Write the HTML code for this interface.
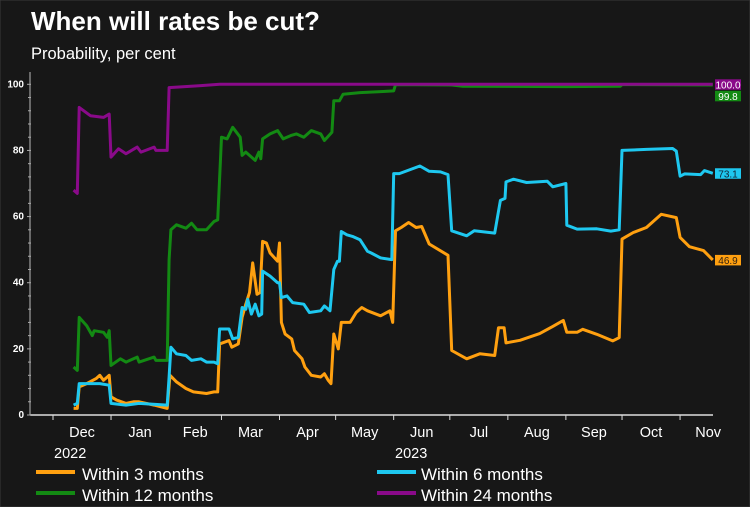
<!DOCTYPE html>
<html><head><meta charset="utf-8"><style>
html,body{margin:0;padding:0;background:#161616;}
svg{display:block;font-family:"Liberation Sans",Arial,sans-serif;}
</style></head><body>
<svg id="chart" width="750" height="507" viewBox="0 0 750 507">
<rect x="0" y="0" width="750" height="507" fill="#171717" stroke="#3a3a3a"/>
<text x="31" y="30" fill="#fff" font-size="26" font-weight="bold">When will rates be cut?</text>
<text x="31" y="59" fill="#fff" font-size="16.5">Probability, per cent</text>
<g id="axes"></g>
<g id="series"></g>
<g id="endlabels"></g>
<g>
<g><rect x="36" y="470" width="39" height="4" fill="#ffa010"/><text x="82" y="480" fill="#fff" font-size="17">Within 3 months</text></g>
<g><rect x="377" y="470" width="39" height="4" fill="#1ec8f0"/><text x="421" y="480" fill="#fff" font-size="17">Within 6 months</text></g>
<g><rect x="36" y="491" width="39" height="4" fill="#138a13"/><text x="82" y="501" fill="#fff" font-size="17">Within 12 months</text></g>
<g><rect x="377" y="491" width="39" height="4" fill="#8a0a8a"/><text x="421" y="501" fill="#fff" font-size="17">Within 24 months</text></g>
</g>
</svg>
<script>
// days since 1 Dec 2022
const monthLabels = ["Dec","Jan","Feb","Mar","Apr","May","Jun","Jul","Aug","Sep","Oct","Nov"];
const monthStarts = [0,31,62,90,121,151,182,212,243,274,304,335];
const yTicks = [0,20,40,60,80,100];

const days3 = [11,13,14,18,23,25,27,29,30,31,34,39,43,46,54,61,62.5,66,71,75,82,86,88,89,94,95.5,99,101,103,105,106.7,109,110.6,112,114,116,120,121,122,124,127.5,129,133,134.6,138,143,145,147,148.5,150,152.4,154,158.7,162,165,168,175,180,181.5,183,186,190,194,197,201,211,213,221,228,236,238,241,242,249.5,260,267,272.6,274.5,280,283,290.5,299,302.5,304,310,317,325,333,335,340,347.5,352.5];
const within3 = [2,2,8.5,9.5,11,12,10.5,11.5,12,5.5,4.5,3.5,4,4,3,2,12,10,8,7,6.5,7,7,21.5,22.5,20.5,21.5,29.5,33.5,37,46,36.5,37,52.5,52,49,46.5,52,28,24.5,23,19.5,17,14.5,12,11.5,12.5,10.5,9.5,24.5,20,28,28,31,32.5,31.5,30,31.5,28,55.7,56.7,58.2,56.7,57,51.7,48.3,19.5,17,18.5,18,26.4,26.4,21.8,22.6,24.6,26.8,28.6,25,25,25.9,24.4,22.4,23.4,53.2,55.2,56.7,60.7,59.7,53.7,50.9,49.7,46.9];

const days6 = [11,13,14,25,30,31,39,46,61,62,63,66,71,74,79,82,86,88,89,94,96,99,101,103,104,106,108,110,111.5,112,116,120,121,122,125,128,134,137,143,145,148,150,152,153,154,157,160,164,168,170,175,181,182,185,196,201,207,211,213,221,225,236,239,241.5,242,246,253,264,267,274,274.5,280,290.5,298,302.5,304,317,331,333,335,337.5,346,348,352.5];
const within6 = [3,3.5,9.5,9.5,9,3.5,3,3.5,3,11.5,20.5,18.5,18,16.5,17,16,16,15.5,26,26,23,23.5,32.5,32,35,30.5,33.5,30,30.5,43.5,42,40,40,35.5,36,34,33.5,31,31.5,33,31.5,44,46.5,46.5,55.5,54.5,54,53,49.5,49,47.5,47,73,73,75.3,73.7,73.5,72.7,55.7,54.2,55.7,55,64.9,65.5,70.5,71.3,70.3,70.7,69,70,57.4,56.2,56.3,55.6,56,80,80.3,80.6,79.8,72.2,72.9,72.7,73.9,73.1];

const days12 = [11,13,14,18,21,22,27,29,30,31,36,39,45,46,54,55,61,62,63,66,71,74,77,82,86,88,90,93,96,100,101,103,108,110,111,112,116,120,123,127,130,134,138,143,145,149,150,153,155,164,175,182,183,213,219,274,303,304,352.5];
const within12 = [14.5,13.5,29.5,27,24,25.5,25,23.5,25.5,15,17,16,17.5,16,17.5,16.5,16.5,47,56,57.5,56.5,58,56,56,58.5,59,84,83.5,87,84,78.5,79.5,77,79.5,77.5,83.5,85,86,83.5,84.5,85,84,86,85,83,85.5,95,95,97,97.5,97.8,98,99.9,99.8,99.4,99.3,99.4,99.9,99.8];

const days24 = [11,13,14,20,27,30,31,35,39,45,47,54,55,61,62,79,89,352.5];
const within24 = [68,67,93,90.5,90,91,78,80.5,79,81,79.5,81,80,80,99,99.6,100,100];

const X0=53, X1=713, DMAX=352.6, Y0=415, Y100=84.3;
function xs(d){return X0+d*(X1-X0)/DMAX;}
function ys(v){return Y0-v*(Y0-Y100)/100;}
const NS="http://www.w3.org/2000/svg";
function mk(tag,attrs,parent){const e=document.createElementNS(NS,tag);for(const k in attrs)e.setAttribute(k,attrs[k]);parent.appendChild(e);return e;}

const axes=document.getElementById('axes');
let e=mk('line',{x1:30,y1:72,x2:30,y2:Y0,stroke:'#bbb','stroke-width':1},axes);


e=mk('line',{x1:30,y1:Y0,x2:X1,y2:Y0,stroke:'#ddd','stroke-width':1.5},axes);


for(let v=0;v<=100;v+=4){
  const big=yTicks.includes(v);
  mk('line',{x1:big?27:28,y1:ys(v),x2:31,y2:ys(v),stroke:'#aaa','stroke-width':1},axes);
}
yTicks.forEach(v=>{
  const t=mk('text',{x:24,y:ys(v)+3,fill:'#fff','font-size':10,'font-weight':'bold','text-anchor':'end'},axes);
  t.textContent=v;
  
  
});
monthStarts.forEach((d,i)=>{
  mk('line',{x1:xs(d),y1:Y0,x2:xs(d),y2:Y0+5,stroke:'#ddd','stroke-width':1},axes);
  const next=i+1<monthStarts.length?monthStarts[i+1]:365;
  const t=mk('text',{x:xs((d+next)/2),y:437,fill:'#fff','font-size':14.5,'text-anchor':'middle'},axes);
  t.textContent=monthLabels[i];
  
  
});
e=mk('text',{x:54,y:458,fill:'#fff','font-size':14.5},axes);e.textContent='2022';


e=mk('text',{x:395,y:458,fill:'#fff','font-size':14.5},axes);e.textContent='2023';



const ser=document.getElementById('series');
function line(days,vals,color,name){
  const p=mk('polyline',{points:days.map((d,i)=>xs(d).toFixed(1)+','+ys(vals[i]).toFixed(1)).join(' '),fill:'none',stroke:color,'stroke-width':3,'stroke-linejoin':'round'},ser);
  
  
}
line(days12,within12,'#138a13','line-within-12-months');
line(days24,within24,'#8a0a8a','line-within-24-months');
line(days3,within3,'#ffa010','line-within-3-months');
line(days6,within6,'#1ec8f0','line-within-6-months');

const el=document.getElementById('endlabels');
function endLabel(vals,color,txtColor,yTop,name){
  const v=vals[vals.length-1];
  const g=mk('g',{},el);
  
  
  mk('rect',{x:715,y:yTop,width:26,height:10.5,fill:color},g);
  const t=mk('text',{x:728,y:yTop+9,fill:txtColor,'font-size':10,'text-anchor':'middle'},g);
  t.textContent=v.toFixed(1);
}
endLabel(within24,'#8a0a8a','#fff',ys(within24[within24.length-1])-5,'end-label-24m');
endLabel(within12,'#138a13','#fff',ys(within24[within24.length-1])+6.5,'end-label-12m');
endLabel(within6,'#1ec8f0','#123',ys(within6[within6.length-1])-5,'end-label-6m');
endLabel(within3,'#ffa010','#321',ys(within3[within3.length-1])-5,'end-label-3m');
</script>
</body></html>
